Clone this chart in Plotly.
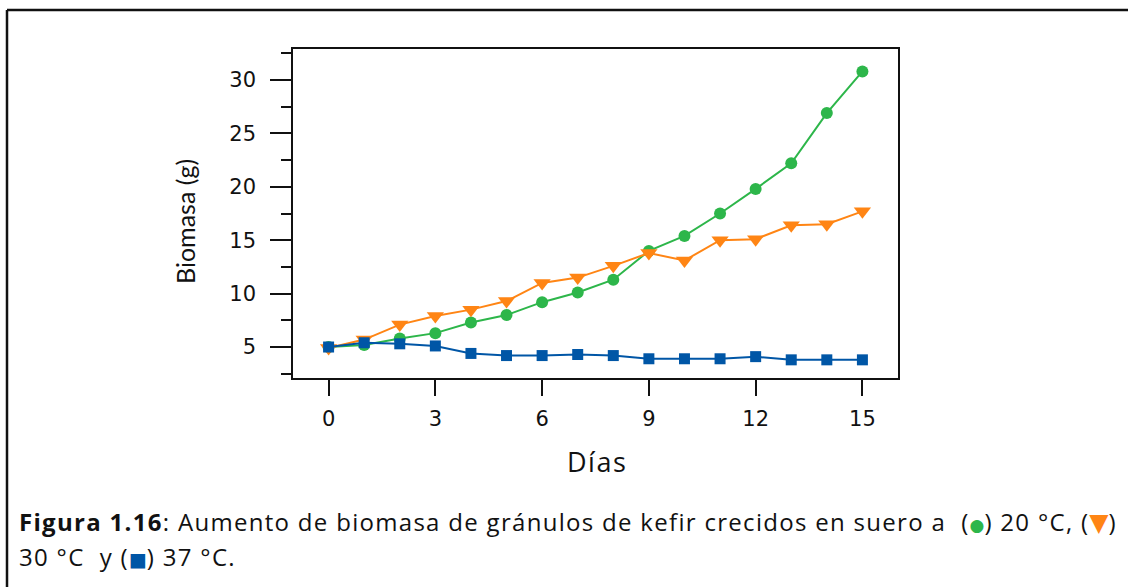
import plotly.graph_objects as go

# Kefir grain biomass (g) over 15 days at three incubation temperatures
dias = list(range(16))
biomasa_20 = [5.0, 5.2, 5.8, 6.3, 7.3, 8.0, 9.2, 10.1, 11.3, 14.0, 15.4, 17.5, 19.8, 22.2, 26.9, 30.8]
biomasa_30 = [4.9, 5.7, 7.1, 7.9, 8.5, 9.3, 11.0, 11.5, 12.6, 13.8, 13.1, 15.0, 15.1, 16.4, 16.5, 17.7]
biomasa_37 = [5.0, 5.4, 5.3, 5.1, 4.4, 4.2, 4.2, 4.3, 4.2, 3.9, 3.9, 3.9, 4.1, 3.8, 3.8, 3.8]

x_ticks = [0, 3, 6, 9, 12, 15]
y_ticks = [5, 10, 15, 20, 25, 30]
y_range = [2.1, 32.9]

VERDE = "#2db64a"
NARANJA = "#ff8514"
AZUL = "#0056a6"
NEGRO = "#111111"

W, H = 1128, 587
PL = 256                     # left edge of the paper area (tick-label column)
L, R, T, B = 293, 898, 49, 378  # plot frame in pixels


def px_x(px):
    return (px - PL) / (R - PL)


def px_y(py):
    return (B - py) / (B - T)


fig = go.Figure()
fig.add_trace(go.Scatter(
    x=dias, y=biomasa_20, mode="lines+markers", name="20 °C",
    line=dict(color=VERDE, width=2),
    marker=dict(symbol="circle", size=12, color=VERDE),
))
fig.add_trace(go.Scatter(
    x=dias, y=biomasa_30, mode="lines+markers", name="30 °C",
    line=dict(color=NARANJA, width=2),
    marker=dict(symbol="triangle-down", size=15, color=NARANJA),
))
fig.add_trace(go.Scatter(
    x=dias, y=biomasa_37, mode="lines+markers", name="37 °C",
    line=dict(color=AZUL, width=2),
    marker=dict(symbol="square", size=11, color=AZUL),
))
# empty series that keeps the label axis alive
fig.add_trace(go.Scatter(x=[None], y=[None], yaxis="y2", mode="markers",
                         showlegend=False, hoverinfo="skip"))

tick_font = dict(family="DejaVu Sans", size=21, color=NEGRO)

fig.update_layout(
    xaxis=dict(
        domain=[px_x(L), 1],
        range=[-1, 16], tickmode="array", tickvals=x_ticks,
        ticks="outside", ticklen=16, tickwidth=2, tickcolor=NEGRO,
        ticklabelstandoff=5,
        showline=True, mirror=True, linecolor=NEGRO, linewidth=2,
        showgrid=False, zeroline=False, tickfont=tick_font,
    ),
    # frame axis: spine, major and minor ticks
    yaxis=dict(
        range=y_range, tickmode="array", tickvals=y_ticks, showticklabels=False,
        ticks="outside", ticklen=21, tickwidth=2, tickcolor=NEGRO,
        minor=dict(ticks="outside", ticklen=10, tickwidth=2, tickcolor=NEGRO,
                   tick0=2.5, dtick=5, showgrid=False),
        showline=True, mirror=True, linecolor=NEGRO, linewidth=2,
        showgrid=False, zeroline=False,
    ),
    # label axis: same scale, numbers set a little away from the ticks
    yaxis2=dict(
        overlaying="y", anchor="free", position=0, side="left",
        range=y_range, tickmode="array", tickvals=y_ticks,
        ticks="", showline=False, showgrid=False, zeroline=False,
        tickfont=tick_font,
    ),
)

cap_style = "letter-spacing:1.3px"
glyph = "font-family:DejaVu Sans;letter-spacing:0px"
linea1 = (f"<span style='{cap_style}'><b>Figura 1.16</b>: Aumento de biomasa de gránulos de kefir "
          f"crecidos en suero a  (</span><span style='color:{VERDE};font-size:17px;{glyph}'>●</span>"
          f"<span style='{cap_style}'>) 20 °C, (</span><span style='color:{NARANJA};font-size:25px;{glyph}'>▼</span>"
          f"<span style='{cap_style}'>)</span>")
linea2 = (f"<span style='{cap_style}'>30 °C  y (</span><span style='color:{AZUL};font-size:19px;{glyph}'>■</span>"
          f"<span style='{cap_style}'>) 37 °C.</span>")

annotations = [
    dict(text="Biomasa (g)", x=px_x(185), y=px_y(222), textangle=-90,
         font=dict(family="Lato", size=25, color=NEGRO)),
    dict(text="<span style='letter-spacing:1.5px'>Días</span>", x=px_x(597), y=px_y(461),
         font=dict(family="Open Sans", size=27, color=NEGRO)),
    dict(text=linea1, x=px_x(17), y=px_y(521), xanchor="left",
         font=dict(family="Open Sans", size=24, color=NEGRO)),
    dict(text=linea2, x=px_x(17), y=px_y(556), xanchor="left",
         font=dict(family="Open Sans", size=24, color=NEGRO)),
]
for a in annotations:
    a.setdefault("xanchor", "center")
    a.update(xref="paper", yref="paper", yanchor="middle", showarrow=False)

# frame around the figure block
shapes = [
    dict(type="line", xref="paper", yref="paper",
         x0=px_x(7), x1=px_x(7), y0=px_y(10), y1=px_y(W), line=dict(color=NEGRO, width=2.5)),
    dict(type="line", xref="paper", yref="paper",
         x0=px_x(7), x1=px_x(W + 20), y0=px_y(10), y1=px_y(10), line=dict(color=NEGRO, width=2.5)),
]

fig.update_layout(
    width=W, height=H,
    margin=dict(l=PL, r=W - R, t=T, b=H - B, autoexpand=False),
    paper_bgcolor="white", plot_bgcolor="white",
    showlegend=False,
    annotations=annotations,
    shapes=shapes,
)

fig.write_html("out.html")
